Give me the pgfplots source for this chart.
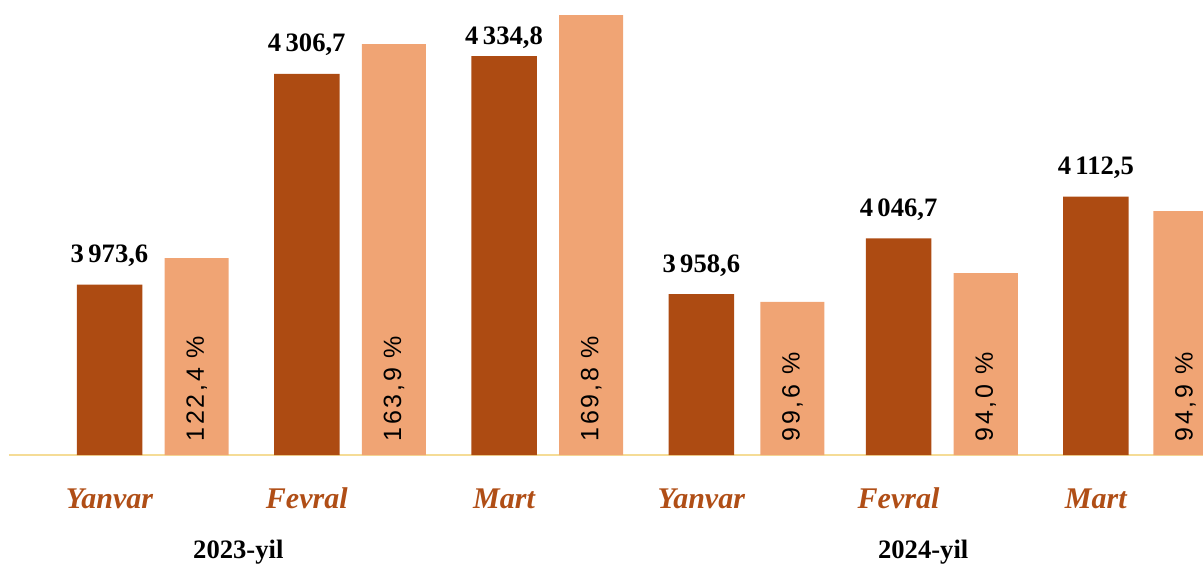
\documentclass[border=0pt]{standalone}
\usepackage{fontspec}
\setmainfont{Liberation Serif}
\newfontfamily\pctfont[LetterSpace=11]{Liberation Sans}
\usepackage{pgfplots}
\pgfplotsset{compat=1.18}
\usepackage{pgfplotstable}
\definecolor{darkbar}{HTML}{AD4B12}
\definecolor{lightbar}{HTML}{F0A474}
\definecolor{monthcol}{HTML}{B04E16}
\definecolor{basecol}{HTML}{F5DC96}

\pgfplotstableread{
x y dy label
0 3973.6 11 {3\,973,6}
1 4306.7 11 {4\,306,7}
2 4334.8 6 {4\,334,8}
3 3958.6 11 {3\,958,6}
4 4046.7 11 {4\,046,7}
5 4112.5 11 {4\,112,5}
}\darkdata

\pgfplotstableread{
x h pct
0.442 4015.5 {122,4\ \%}
1.442 4353.8 {163,9\ \%}
2.442 4399.6 {169,8\ \%}
3.462 3946.0 {99,6\ \%}
4.442 3991.8 {94,0\ \%}
5.454 4089.8 {94,9\ \%}
}\lightdata

\begin{document}
\begin{tikzpicture}
\useasboundingbox (0,0) rectangle (601.5pt,281.5pt);
\begin{axis}[
  at={(4.5pt,54pt)}, anchor=south west,
  scale only axis, width=597pt, height=227.5pt,
  xmin=-0.5095, xmax=5.5434, ymin=3704.1, ymax=4423.4,
  axis x line*=bottom, axis y line=none,
  axis line style={draw=basecol, line width=1pt, -},
  xtick={0,1,2,3,4,5},
  xticklabels={Yanvar,Fevral,Mart,Yanvar,Fevral,Mart},
  xtick style={draw=none}, major tick length=0pt,
  xticklabel style={anchor=base, yshift=-26.5pt, inner sep=0pt,
    font=\bfseries\itshape\fontsize{15}{16}\selectfont, text=monthcol},
  ytick=\empty,
]
\addplot[ybar, bar shift=0pt, bar width=0.332, fill=darkbar, draw=none,
  nodes near coords, point meta=explicit symbolic,
  visualization depends on={\thisrow{dy}\as\dy},
  nodes near coords style={anchor=base, yshift=\dy pt, inner sep=0pt,
    font=\bfseries\fontsize{13.3}{14}\selectfont, text=black}]
  table[x=x, y=y, meta=label]{\darkdata};
\addplot[ybar, bar shift=0pt, bar width=0.3245, fill=lightbar, draw=none,
  nodes near coords, point meta=explicit symbolic,
  visualization depends on={\thisrow{h}\as\hh},
  nodes near coords style={anchor=west, inner sep=0pt,
    yshift={(3704.1-\hh)*0.31628pt+6.65pt}, rotate=90,
    font=\pctfont\fontsize{12.5}{13}\selectfont, text=black}]
  table[x=x, y=h, meta=pct]{\lightdata};
\coordinate (y23) at (axis cs:0.653,3704.1);
\coordinate (y24) at (axis cs:4.125,3704.1);
\end{axis}
\node[anchor=base, inner sep=0pt, yshift=-51.65pt, font=\bfseries\fontsize{13.3}{14}\selectfont] at (y23) {2023-yil};
\node[anchor=base, inner sep=0pt, yshift=-51.65pt, font=\bfseries\fontsize{13.3}{14}\selectfont] at (y24) {2024-yil};
\end{tikzpicture}
\end{document}
